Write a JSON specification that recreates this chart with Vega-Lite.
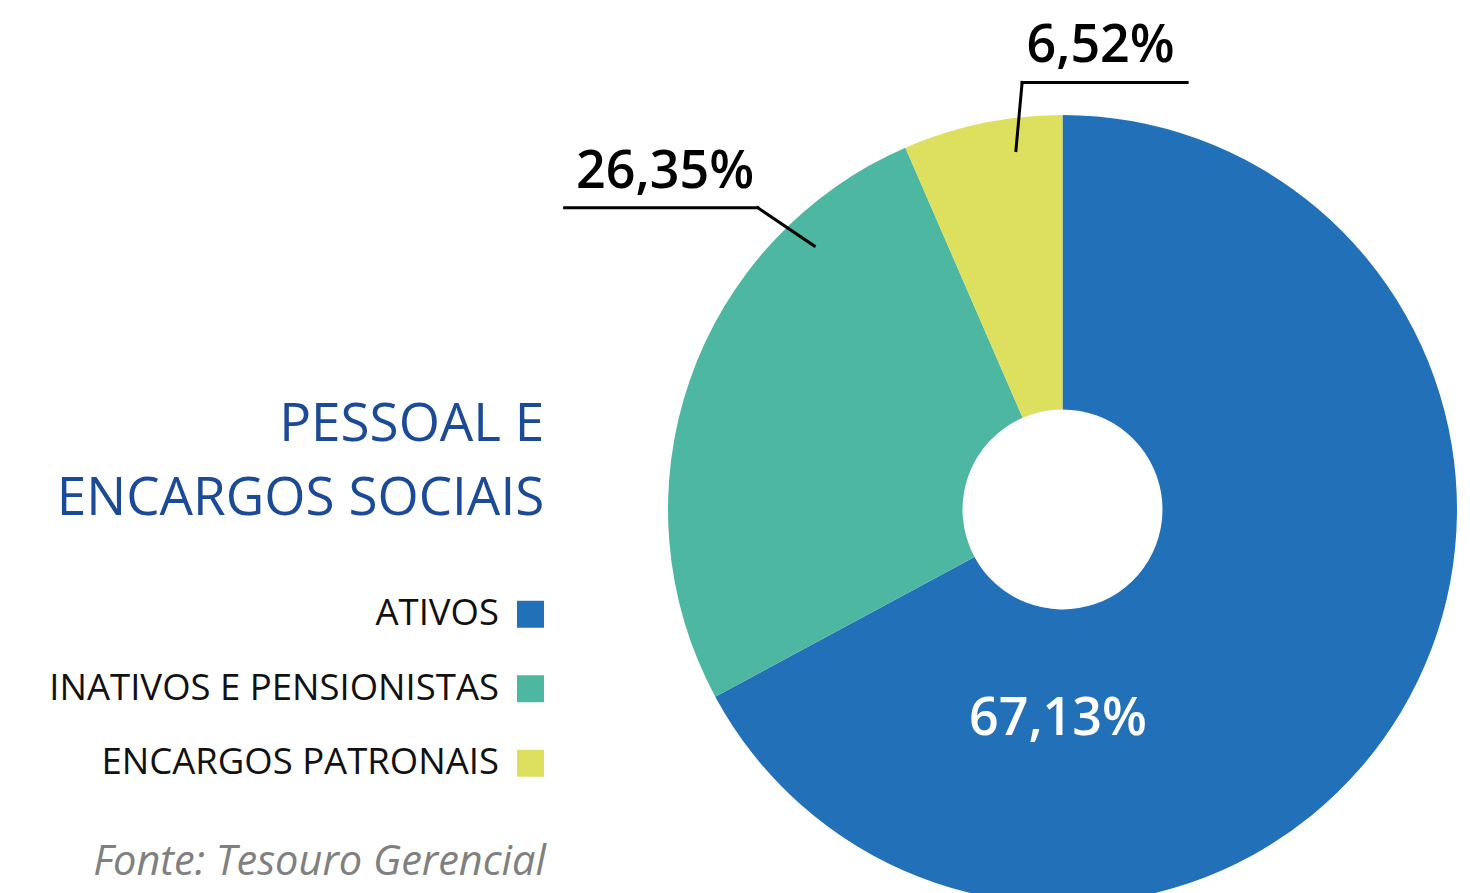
{
  "$schema": "https://vega.github.io/schema/vega-lite/v6.json",
  "width": 789,
  "height": 789,
  "autosize": {"type": "none"},
  "padding": {"left": 668, "top": 115, "right": 13, "bottom": 0},
  "background": "white",
  "config": {"view": {"stroke": null}, "font": "Open Sans"},
  "title": {
    "text": "Fonte: Tesouro Gerencial",
    "orient": "top",
    "anchor": "start",
    "frame": "group",
    "align": "right",
    "baseline": "alphabetic",
    "offset": 0,
    "dx": -122,
    "dy": 896,
    "font": "Open Sans",
    "fontStyle": "italic",
    "fontWeight": "normal",
    "fontSize": 41.5,
    "color": "#808080"
  },
  "data": {
    "values": [
      {"categoria": "ATIVOS", "valor": 67.13, "rotulo": "67,13%"},
      {"categoria": "INATIVOS E PENSIONISTAS", "valor": 26.35, "rotulo": "26,35%"},
      {"categoria": "ENCARGOS PATRONAIS", "valor": 6.52, "rotulo": "6,52%"}
    ]
  },
  "transform": [
    {"stack": "valor", "groupby": [], "sort": [{"field": "valor", "order": "descending"}], "as": ["v0", "v1"]},
    {"calculate": "2*PI*(datum.v0 + 0.77*(datum.v1 - datum.v0))/100", "as": "angOut"},
    {"calculate": "2*PI*(datum.v0 + 0.75*(datum.v1 - datum.v0))/100", "as": "angIn"},
    {"calculate": "sin(datum.angOut) < -0.5 ? -1 : 1", "as": "dir"},
    {"calculate": "datum.angOut - datum.dir*PI/90", "as": "angP"},
    {"calculate": "28*length(datum.rotulo) + 25", "as": "comp"},
    {"calculate": "362*sin(datum.angP)", "as": "ax"},
    {"calculate": "362*cos(datum.angP)", "as": "ay"},
    {"calculate": "429*sin(datum.angOut)", "as": "bx"},
    {"calculate": "429*cos(datum.angOut)", "as": "by"},
    {"calculate": "datum.bx + datum.dir*datum.comp", "as": "cx"},
    {"calculate": "datum.bx + datum.dir*(datum.comp/2 - 4)", "as": "tx"},
    {"calculate": "210*sin(datum.angIn)", "as": "ix"},
    {"calculate": "210*cos(datum.angIn)", "as": "iy"}
  ],
  "layer": [
    {
      "mark": {"type": "arc", "outerRadius": 394.5, "innerRadius": 100, "strokeWidth": 0},
      "encoding": {
        "theta": {"field": "v0", "type": "quantitative", "scale": {"domain": [0, 100], "range": [0, 6.283185307179586]}},
        "theta2": {"field": "v1"},
        "color": {
          "field": "categoria",
          "type": "nominal",
          "scale": {
            "domain": ["ATIVOS", "INATIVOS E PENSIONISTAS", "ENCARGOS PATRONAIS"],
            "range": ["#2270B8", "#4DB7A2", "#DDE05E"]
          },
          "legend": {
            "orient": "none",
            "legendX": -610.75,
            "legendY": 284,
            "direction": "vertical",
            "padding": 0,
            "title": ["PESSOAL E", "ENCARGOS SOCIAIS"],
            "titleFont": "Open Sans",
            "titleFontSize": 53,
            "titleFontWeight": "normal",
            "titleColor": "#1B4A96",
            "titleAlign": "right",
            "titleAnchor": "end",
            "titleBaseline": "top",
            "titleLineHeight": 74,
            "titlePadding": 70,
            "titleLimit": 0,
            "labelFont": "Open Sans",
            "labelFontSize": 36.5,
            "labelColor": "#111111",
            "labelAlign": "right",
            "labelOffset": -49.75,
            "labelLimit": 0,
            "symbolType": "square",
            "symbolSize": 729,
            "symbolStrokeWidth": 0,
            "symbolOpacity": 1,
            "rowPadding": 37.5
          }
        }
      }
    },
    {
      "transform": [{"filter": "datum.valor < 30"}],
      "mark": {"type": "rule", "color": "#000000", "strokeWidth": 3, "strokeCap": "square"},
      "encoding": {
        "x": {"field": "ax", "type": "quantitative", "axis": null, "scale": {"domain": [-394.5, 394.5], "nice": false, "zero": false}},
        "y": {"field": "ay", "type": "quantitative", "axis": null, "scale": {"domain": [-394.5, 394.5], "nice": false, "zero": false}},
        "x2": {"field": "bx"},
        "y2": {"field": "by"}
      }
    },
    {
      "transform": [{"filter": "datum.valor < 30"}],
      "mark": {"type": "rule", "color": "#000000", "strokeWidth": 3, "strokeCap": "square"},
      "encoding": {
        "x": {"field": "bx", "type": "quantitative", "axis": null, "scale": {"domain": [-394.5, 394.5], "nice": false, "zero": false}},
        "x2": {"field": "cx"},
        "y": {"field": "by", "type": "quantitative", "axis": null, "scale": {"domain": [-394.5, 394.5], "nice": false, "zero": false}}
      }
    },
    {
      "transform": [{"filter": "datum.valor < 30"}],
      "mark": {"type": "text", "font": "Open Sans", "fontSize": 52, "fontWeight": 600, "color": "#000000", "align": "center", "baseline": "alphabetic", "dy": -20},
      "encoding": {
        "x": {"field": "tx", "type": "quantitative", "axis": null, "scale": {"domain": [-394.5, 394.5], "nice": false, "zero": false}},
        "y": {"field": "by", "type": "quantitative", "axis": null, "scale": {"domain": [-394.5, 394.5], "nice": false, "zero": false}},
        "text": {"field": "rotulo"}
      }
    },
    {
      "transform": [{"filter": "datum.valor >= 30"}],
      "mark": {"type": "text", "font": "Open Sans", "fontSize": 52, "fontWeight": 600, "color": "#FFFFFF", "align": "center", "baseline": "middle"},
      "encoding": {
        "x": {"field": "ix", "type": "quantitative", "axis": null, "scale": {"domain": [-394.5, 394.5], "nice": false, "zero": false}},
        "y": {"field": "iy", "type": "quantitative", "axis": null, "scale": {"domain": [-394.5, 394.5], "nice": false, "zero": false}},
        "text": {"field": "rotulo"}
      }
    }
  ]
}
